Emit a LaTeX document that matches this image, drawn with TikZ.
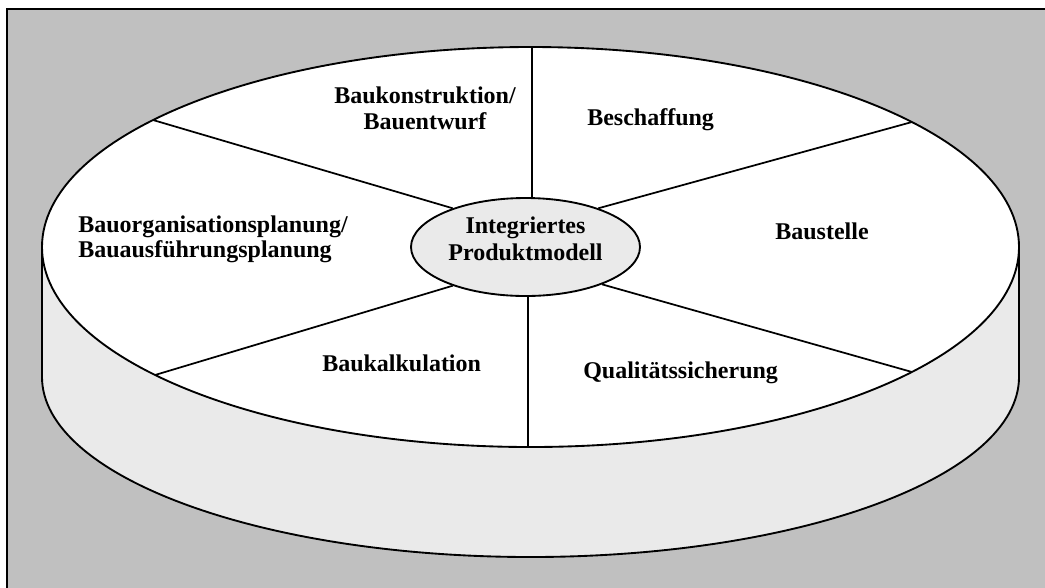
\documentclass[tikz,border=0pt]{standalone}
\usepackage{fontspec}
\setmainfont{Liberation Serif}
\usetikzlibrary{shapes.geometric}
\definecolor{panelgray}{HTML}{C0C0C0}
\definecolor{discside}{HTML}{EAEAEA}
\begin{document}
\begin{tikzpicture}[x=0.75pt,y=-0.75pt,
  outline/.style={line width=1.4pt, draw=black},
  spoke/.style={line width=1.3pt},
  lbl/.style={inner sep=0pt, font=\fontsize{18}{20}\selectfont\bfseries},
  core/.style={ellipse, outline, fill=discside, inner sep=0pt,
               minimum width=171.75pt, minimum height=73.5pt}]
  \useasboundingbox (0,0) rectangle (1045,587);
  \clip (0,0) rectangle (1045,587);
  \fill[white] (0,0) rectangle (1045,587);
  % framed gray panel
  \filldraw[fill=panelgray, draw=black, line width=1.5pt] (7,9) rectangle (1070,610);

  % side of the disc
  \filldraw[fill=discside, outline] (42,247) -- (42,377)
     arc[start angle=180, end angle=360, x radius=366.375pt, y radius=135pt]
     -- (1019,247) -- cycle;
  % top face
  \filldraw[fill=white, outline] (530.5,247) ellipse [x radius=366.375pt, y radius=150pt];

  % outer ends of the spokes on the rim
  \coordinate (rimN)  at (532,47);
  \coordinate (rimS)  at (528,447);
  \coordinate (rimNW) at (153,120);
  \coordinate (rimNE) at (912,122);
  \coordinate (rimSW) at (155,375);
  \coordinate (rimSE) at (912,372);

  % hub (drawn invisibly first so spokes can refer to it)
  \path node[core, draw=none, fill=none] (hubref) at (525.5,247) {};
  \draw[spoke] (rimN) -- (rimN |- hubref.center);
  \draw[spoke] (rimS) -- (rimS |- hubref.center);
  \draw[spoke] (rimNW) -- (hubref.152);
  \draw[spoke] (rimNE) -- (hubref.28);
  \draw[spoke] (rimSW) -- (hubref.208);
  \draw[spoke] (rimSE) -- (hubref.334);
  \node[core] (hub) at (525.5,247) {};

  % labels
  \node[lbl, anchor=base] (hubA) at (525.5,233) {Integriertes};
  \node[lbl, anchor=base] (hubB) at (525.5,260) {Produktmodell};
  \node[lbl, anchor=base] (konA) at (425,103) {Baukonstruktion/};
  \node[lbl, anchor=base] (konB) at (425,129) {Bauentwurf};
  \node[lbl, anchor=base west] (besch) at (587,125) {Beschaffung};
  \node[lbl, anchor=base] (baust) at (822,239) {Baustelle};
  \node[lbl, anchor=base west] (orgA) at (78,232) {Bauorganisationsplanung/};
  \node[lbl, anchor=base west] (orgB) at (78,257) {Bauausführungsplanung};
  \node[lbl, anchor=base west] (kalk) at (322,371) {Baukalkulation};
  \node[lbl, anchor=base west] (qual) at (583,378) {Qualitätssicherung};
\end{tikzpicture}
\end{document}
